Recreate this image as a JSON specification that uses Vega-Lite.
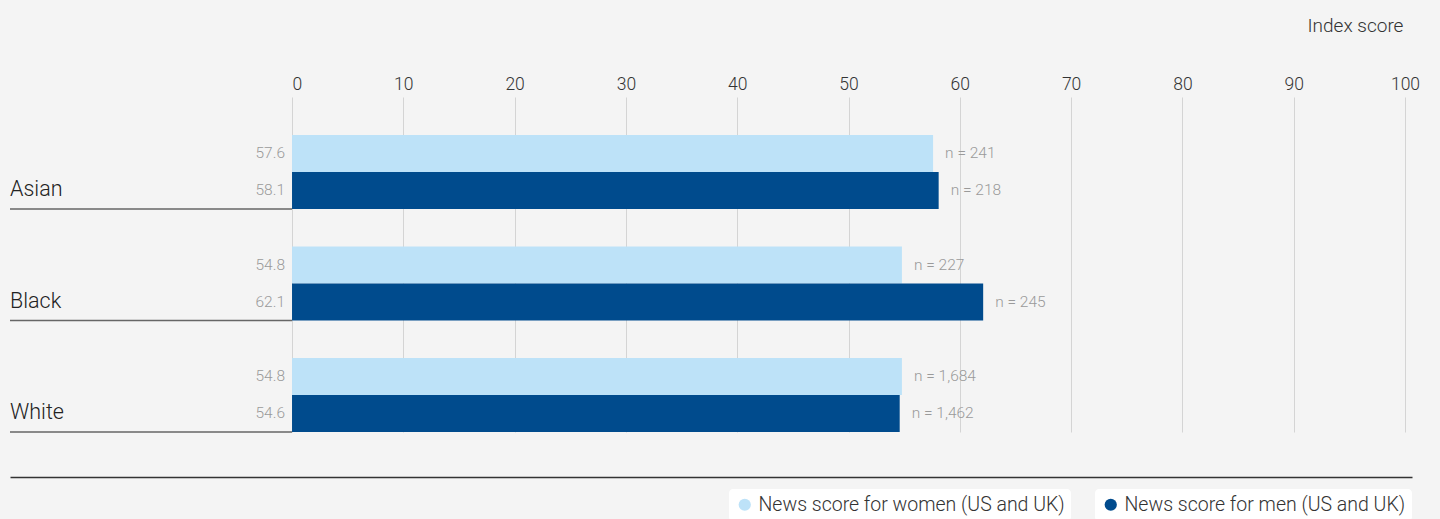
{
  "$schema": "https://vega.github.io/schema/vega-lite/v6.json",
  "autosize": {"type": "none"},
  "width": 1402,
  "height": 335,
  "padding": {"left": 10, "top": 97, "right": 28, "bottom": 87},
  "background": "#f4f4f4",
  "config": {
    "view": {"stroke": null},
    "font": "Roboto",
    "legend": {"layout": {"bottom": {"anchor": "end", "direction": "horizontal", "margin": 24}}}
  },
  "data": {
    "values": [
      {"race": "Asian", "series": "News score for women (US and UK)", "value": 57.6, "n": 241},
      {"race": "Asian", "series": "News score for men (US and UK)", "value": 58.1, "n": 218},
      {"race": "Black", "series": "News score for women (US and UK)", "value": 54.8, "n": 227},
      {"race": "Black", "series": "News score for men (US and UK)", "value": 62.1, "n": 245},
      {"race": "White", "series": "News score for women (US and UK)", "value": 54.8, "n": 1684},
      {"race": "White", "series": "News score for men (US and UK)", "value": 54.6, "n": 1462}
    ]
  },
  "encoding": {
    "y": {
      "field": "race",
      "type": "nominal",
      "sort": ["Asian", "Black", "White"],
      "scale": {"paddingInner": 0.336, "paddingOuter": 0.17, "align": 1},
      "axis": null
    }
  },
  "layer": [
    {
      "transform": [{"filter": "datum.series === 'News score for women (US and UK)'"}],
      "mark": {"type": "bar"},
      "encoding": {
        "x": {
          "field": "value",
          "type": "quantitative",
          "scale": {"domain": [-25.34, 100.63], "nice": false, "zero": false},
          "axis": {
            "orient": "top",
            "values": [0, 10, 20, 30, 40, 50, 60, 70, 80, 90, 100],
            "grid": true,
            "gridColor": "#d4d4d4",
            "gridWidth": 1,
            "domain": false,
            "ticks": false,
            "labelFlush": false,
            "labelAlign": {"condition": {"test": "datum.value === 0", "value": "left"}, "value": "center"},
            "labelFontSize": 17.5,
            "labelFontWeight": 300,
            "labelColor": "#333333",
            "labelPadding": 4,
            "title": "Index score",
            "titleFontSize": 19,
            "titleFontWeight": 300,
            "titleColor": "#333333",
            "titleAlign": "center",
            "titleAnchor": null,
            "titleX": 1345,
            "titleY": -72,
            "titleBaseline": "middle"
          }
        },
        "yOffset": {
          "field": "series",
          "type": "nominal",
          "scale": {"domain": ["News score for women (US and UK)", "News score for men (US and UK)"], "paddingInner": 0, "paddingOuter": 0}
        },
        "color": {
          "field": "series",
          "type": "nominal",
          "scale": {"domain": ["News score for women (US and UK)"], "range": ["#bde2f8"]},
          "legend": {
            "orient": "bottom",
            "title": null,
            "offset": 12,
            "fillColor": "white",
            "cornerRadius": 4,
            "padding": 6,
            "symbolType": "circle",
            "symbolSize": 150,
            "symbolStrokeWidth": 0,
            "labelFontSize": 19.5,
            "labelFontWeight": 300,
            "labelColor": "#333333",
            "labelLimit": 0
          }
        }
      }
    },
    {
      "transform": [{"filter": "datum.series === 'News score for men (US and UK)'"}],
      "mark": {"type": "bar"},
      "encoding": {
        "x": {"field": "value", "type": "quantitative", "axis": null},
        "yOffset": {"field": "series", "type": "nominal"},
        "color": {
          "field": "series",
          "type": "nominal",
          "scale": {"domain": ["News score for men (US and UK)"], "range": ["#004b8d"]},
          "legend": {
            "orient": "bottom",
            "title": null,
            "offset": 12,
            "fillColor": "white",
            "cornerRadius": 4,
            "padding": 6,
            "symbolType": "circle",
            "symbolSize": 150,
            "symbolStrokeWidth": 0,
            "labelFontSize": 19.5,
            "labelFontWeight": 300,
            "labelColor": "#333333",
            "labelLimit": 0
          }
        }
      }
    },
    {
      "mark": {"type": "text", "align": "right", "baseline": "middle", "dx": -7, "fontSize": 15.5, "fontWeight": 300, "color": "#9a9a9a"},
      "encoding": {
        "x": {"datum": 0, "type": "quantitative", "axis": null},
        "yOffset": {"field": "series", "type": "nominal"},
        "text": {"field": "value", "type": "quantitative", "format": ".1f"}
      }
    },
    {
      "transform": [{"calculate": "'n = ' + format(datum.n, ',')", "as": "n_label"}],
      "mark": {"type": "text", "align": "left", "baseline": "middle", "dx": 12, "fontSize": 15.5, "fontWeight": 300, "color": "#9a9a9a"},
      "encoding": {
        "x": {"field": "value", "type": "quantitative", "axis": null},
        "yOffset": {"field": "series", "type": "nominal"},
        "text": {"field": "n_label", "type": "nominal"}
      }
    },
    {
      "transform": [{"filter": "datum.series === 'News score for men (US and UK)'"}],
      "mark": {"type": "text", "align": "left", "baseline": "middle", "fontSize": 21.5, "fontWeight": 300, "color": "#222222"},
      "encoding": {
        "x": {"datum": -25.34, "type": "quantitative", "axis": null},
        "yOffset": {"field": "series", "type": "nominal"},
        "text": {"field": "race", "type": "nominal"}
      }
    },
    {
      "transform": [{"filter": "datum.series === 'News score for men (US and UK)'"}],
      "mark": {"type": "rule", "color": "#666666", "strokeWidth": 1.5},
      "encoding": {
        "x": {
          "datum": -25.34,
          "type": "quantitative",
          "axis": {
            "orient": "bottom",
            "offset": 45,
            "domain": true,
            "domainColor": "#333333",
            "domainWidth": 1.5,
            "ticks": false,
            "labels": false,
            "grid": false,
            "title": null
          }
        },
        "x2": {"datum": 0},
        "y": {"field": "race", "type": "nominal", "bandPosition": 1}
      }
    }
  ],
  "resolve": {
    "scale": {"color": "independent"},
    "legend": {"color": "independent"},
    "axis": {"x": "independent"}
  }
}
